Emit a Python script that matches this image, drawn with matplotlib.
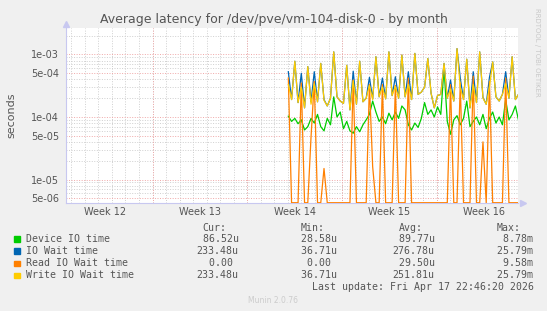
import numpy as np
import matplotlib
matplotlib.use("Agg")
import matplotlib.pyplot as plt
from matplotlib.patches import Rectangle

# ---- data (microseconds), one sample every ~6h starting in week 14 ----
start_day = 16.42
step_days = 5.75 / 24

device_us = [103, 85, 95, 78, 90, 62, 70, 95, 80, 110, 70, 60, 95, 75, 210, 100,
             120, 65, 85, 60, 55, 70, 58, 75, 90, 110, 180, 120, 85, 100, 78, 115,
             90, 120, 95, 150, 130, 75, 62, 80, 68, 95, 170, 110, 130, 100, 145, 110,
             600, 85, 53, 90, 105, 75, 95, 180, 70, 85, 100, 75, 110, 65, 95, 120,
             80, 100, 75, 190, 90, 110, 150, 87]
iowait_us = [530, 190, 780, 170, 500, 140, 640, 175, 530, 175, 720, 190, 150, 200, 1100, 210,
             180, 165, 670, 130, 540, 160, 780, 175, 200, 430, 195, 920, 210, 420, 195, 1100,
             220, 440, 200, 980, 210, 530, 190, 1040, 230, 250, 300, 860, 240, 140, 220, 230,
             720, 200, 390, 180, 1240, 420, 190, 840, 140, 530, 170, 1100, 205, 160, 430, 760,
             210, 180, 230, 530, 200, 920, 190, 233]
read_us = [420, 0, 0, 0, 350, 0, 0, 48, 370, 0, 0, 15, 0, 0, 0, 0,
           0, 0, 0, 0, 390, 0, 0, 0, 0, 330, 16, 0, 0, 330, 0, 0,
           0, 320, 0, 0, 0, 420, 0, 0, 0, 0, 0, 0, 0, 0, 0, 0,
           0, 0, 330, 0, 0, 350, 0, 0, 0, 450, 0, 0, 40, 0, 370, 0,
           0, 0, 0, 420, 0, 0, 0, 0]
write_us = [330, 190, 780, 170, 300, 140, 640, 160, 340, 175, 720, 185, 150, 200, 1100, 210,
            180, 165, 670, 130, 380, 160, 780, 175, 200, 320, 190, 920, 210, 300, 195, 1100,
            220, 310, 200, 980, 210, 330, 190, 1040, 230, 250, 300, 860, 240, 140, 220, 230,
            720, 200, 280, 180, 1240, 300, 190, 840, 140, 330, 170, 1100, 200, 160, 300, 760,
            210, 180, 230, 340, 200, 920, 190, 233]

series_names = ["Device IO time", "IO Wait time", "Read IO Wait time", "Write IO Wait time"]
series_colors = ["#00cc00", "#0066b3", "#ff8000", "#ffcc00"]
cur_vals = [" 86.52u", "233.48u", "  0.00 ", "233.48u"]
min_vals = [" 28.58u", " 36.71u", "  0.00 ", " 36.71u"]
avg_vals = [" 89.77u", "276.78u", " 29.50u", "251.81u"]
max_vals = ["  8.78m", " 25.79m", "  9.58m", " 25.79m"]

week_labels = ["Week 12", "Week 13", "Week 14", "Week 15", "Week 16"]
ytick_vals = [5e-6, 1e-5, 5e-5, 1e-4, 5e-4, 1e-3]
ytick_labels = ["5e-06", "1e-05", "5e-05", "1e-04", "5e-04", "1e-03"]

W, H = 547, 311
TXT = "#555555"
YMIN, YMAX = 4.21e-6, 2.70e-3
XMAX = 452 / 13.54

fig = plt.figure(figsize=(W / 100, H / 100), dpi=100, facecolor="#f0f0f0")
ax = fig.add_axes([66 / W, 1 - 203 / H, (518 - 66) / W, (203 - 27.5) / H])
ax.set_facecolor("white")

t = start_day + step_days * np.arange(len(device_us))

# grid
for d in np.arange(0.39, XMAX, 1.0):
    ax.axvline(d, color="#cfcfcf", lw=0.7, ls=(0, (1, 1.6)), zorder=1)
for d in np.arange(6.39, XMAX, 7.0):
    ax.axvline(d, color="#f0a8a8", lw=0.7, ls=(0, (1, 1.6)), zorder=1.5)
for dec in [1e-6, 1e-5, 1e-4, 1e-3]:
    for m in [2, 3, 4, 6, 7, 8, 9]:
        if YMIN < dec * m < YMAX:
            ax.axhline(dec * m, color="#cfcfcf", lw=0.7, ls=(0, (1, 1.6)), zorder=1)
for v in ytick_vals:
    ax.axhline(v, color="#f0a8a8", lw=0.7, ls=(0, (1, 1.6)), zorder=1.5)

# series (zero values sit on the bottom edge of the log axis)
for vals, c in zip([device_us, iowait_us, read_us, write_us], series_colors):
    y = np.array(vals, dtype=float) * 1e-6
    y = np.where(y > 0, y, YMIN * 1.01)
    ax.plot(t, y, color=c, lw=0.9, zorder=3)

ax.set_yscale("log")
ax.set_ylim(YMIN, YMAX)
ax.set_xlim(0, XMAX)
ax.set_yticks(ytick_vals)
ax.set_yticklabels(ytick_labels, fontsize=7, color=TXT)
ax.yaxis.set_minor_locator(matplotlib.ticker.NullLocator())
ax.set_xticks(np.arange(6.39, XMAX, 7.0))
ax.set_xticklabels([])
ax.tick_params(axis="both", length=0, pad=5)
for i, lab in enumerate(week_labels):
    ax.text(2.89 + 7 * i, -0.05, lab, transform=ax.get_xaxis_transform(),
            ha="center", va="center", fontsize=7, color=TXT)

for s in ["top", "right"]:
    ax.spines[s].set_visible(False)
for s in ["left", "bottom"]:
    ax.spines[s].set_color("#c8c8f0")
    ax.spines[s].set_linewidth(0.8)
ax.plot([0], [1.02], marker="^", ms=4, color="#c8c8f0", transform=ax.transAxes, clip_on=False)
ax.plot([1.01], [0], marker=">", ms=4, color="#c8c8f0", transform=ax.transAxes, clip_on=False)

ax.set_ylabel("seconds", fontsize=8, color=TXT)
ax.yaxis.set_label_coords(-50 / 452, 0.5)

fig.text(273.5 / W, 1 - 20 / H, "Average latency for /dev/pve/vm-104-disk-0 - by month",
         ha="center", va="center", fontsize=9, color=TXT)
fig.text(537 / W, 1 - 52 / H, "RRDTOOL / TOBI OETIKER", rotation=270,
         ha="center", va="center", fontsize=5, color="#c8c8c8")

# legend block
mono = dict(family="DejaVu Sans Mono", fontsize=7.1, color=TXT, va="center")
cols = [196.7, 294.7, 392.7, 490.7]
for x, h in zip(cols, ["Cur:", "Min:", "Avg:", "Max:"]):
    fig.text((x + 5.95) / W, 1 - 227.7 / H, h, ha="left", **mono)
rows_y = [239, 251, 263.3, 275.3]
for k, y in enumerate(rows_y):
    fig.patches.append(Rectangle((14 / W, 1 - (y + 2.8) / H), 5.6 / W, 5.6 / H,
                                 transform=fig.transFigure, color=series_colors[k]))
    fig.text(26 / W, 1 - y / H, series_names[k], ha="left", **mono)
    for x, vals in zip(cols, [cur_vals, min_vals, avg_vals, max_vals]):
        fig.text(x / W, 1 - y / H, vals[k], ha="left", **mono)
fig.text(311.7 / W, 1 - 286.7 / H, "Last update: Fri Apr 17 22:46:20 2026", ha="left", **mono)
fig.text(272.8 / W, 1 - 300.7 / H, "Munin 2.0.76", ha="center", va="center",
         fontsize=5.5, color="#cccccc")

fig.savefig("out.png", dpi=100, facecolor=fig.get_facecolor())
